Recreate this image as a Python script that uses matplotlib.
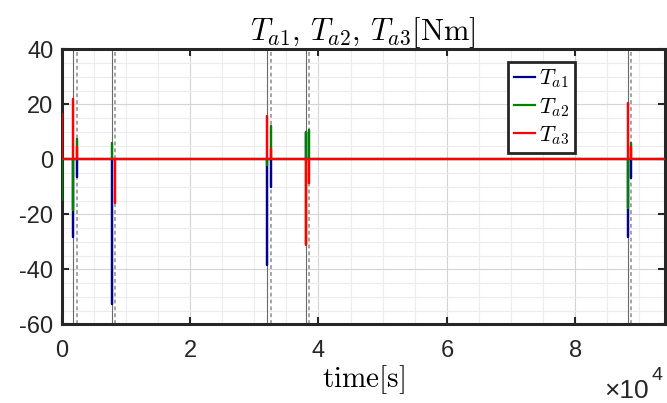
import matplotlib
matplotlib.use("Agg")
import matplotlib.pyplot as plt
from matplotlib.ticker import MultipleLocator, FuncFormatter

plt.rcParams['font.family'] = ['Liberation Sans', 'DejaVu Sans']
plt.rcParams['mathtext.fontset'] = 'cm'
plt.rcParams['axes.unicode_minus'] = False

# event times (s): solid and dotted markers
event_solid = [1810, 7780, 32000, 38020, 88200]
event_dotted = [2330, 8300, 32530, 38490, 88700]

t_end = 93900

# spikes of each torque (time, peak value)
ta1_t = [1810, 2330, 7780, 32000, 32530, 38020, 88200, 88700]
ta1_v = [-28.1, -6.3, -52.6, -38.4, -10.0, 10.0, -28.1, -6.8]
ta2_t = [0, 1810, 2330, 7780, 32000, 32530, 38020, 38020, 38490, 88200, 88700]
ta2_v = [-14.8, -18.4, 7.4, 6.0, -2.0, 12.1, 10.0, -31.2, 10.7, -17.7, 6.0]
ta3_t = [0, 1810, 2330, 8300, 32000, 32530, 38020, 38490, 88200, 88700]
ta3_v = [16.5, 22.0, 4.5, -15.9, 15.7, 3.7, -30.8, -8.6, 20.6, 4.6]


def spike_path(ts, vs):
    x, y = [0], [0]
    for t, v in zip(ts, vs):
        x += [t, t, t]
        y += [0, v, 0]
    x.append(t_end)
    y.append(0)
    return x, y


fig = plt.figure(figsize=(6.67, 4.03), dpi=100)
ax = fig.add_axes([61.7 / 667, 1 - 324.3 / 403, (664.5 - 61.7) / 667, (324.3 - 49.3) / 403])

for t in event_solid:
    ax.axvline(t, color='#6a6a6a', lw=0.8, zorder=1.5)
for t in event_dotted:
    ax.axvline(t, color='#8c8c8c', lw=1.1, ls=(0, (2.5, 2)), zorder=1.5)

for ts, vs, c, lab in [(ta1_t, ta1_v, '#00008c', r'$T_{a1}$'),
                       (ta2_t, ta2_v, '#008000', r'$T_{a2}$'),
                       (ta3_t, ta3_v, '#ff0000', r'$T_{a3}$')]:
    x, y = spike_path(ts, vs)
    ax.plot(x, y, color=c, lw=1.6, label=lab, zorder=3)

ax.set_xlim(0, t_end)
ax.set_ylim(-60, 40)
ax.xaxis.set_major_locator(MultipleLocator(20000))
ax.xaxis.set_minor_locator(MultipleLocator(5000))
ax.yaxis.set_major_locator(MultipleLocator(20))
ax.yaxis.set_minor_locator(MultipleLocator(5))
ax.xaxis.set_major_formatter(FuncFormatter(lambda v, p: '%g' % (v / 1e4)))
ax.yaxis.set_major_formatter(FuncFormatter(lambda v, p: '%g' % v))

ax.grid(which='major', color='#d4d4d4', lw=0.8)
ax.grid(which='minor', color='#ececec', lw=0.8)
ax.set_axisbelow(True)
ax.tick_params(which='major', direction='in', length=5, width=1.5, color='#262626',
               top=True, right=True, labelsize=17, labelcolor='#262626')
ax.tick_params(axis='x', which='major', pad=11)
ax.tick_params(axis='y', which='major', pad=6)
ax.tick_params(which='minor', length=0)
for s in ax.spines.values():
    s.set_linewidth(2.2)
    s.set_color('#262626')

ax.set_title(r'$T_{a1},\,T_{a2},\,T_{a3}[\mathrm{Nm}]$', fontsize=22, pad=7)
ax.set_xlabel(r'$\mathrm{time[s]}$', fontsize=21, labelpad=1)

fig.text(604 / 667, 1 - 398 / 403, '×10', fontsize=19, color='#262626', va='baseline')
fig.text(651 / 667, 1 - 380 / 403, '4', fontsize=14, color='#262626', va='baseline')

leg = ax.legend(loc='upper left', bbox_to_anchor=(0.741, 0.954), borderaxespad=0,
                fontsize=16, handlelength=0.95, handletextpad=0.2, labelspacing=0.25,
                borderpad=0.25, fancybox=False, framealpha=1, edgecolor='#262626')
leg.get_frame().set_linewidth(2)

fig.savefig('out.png', dpi=100)
